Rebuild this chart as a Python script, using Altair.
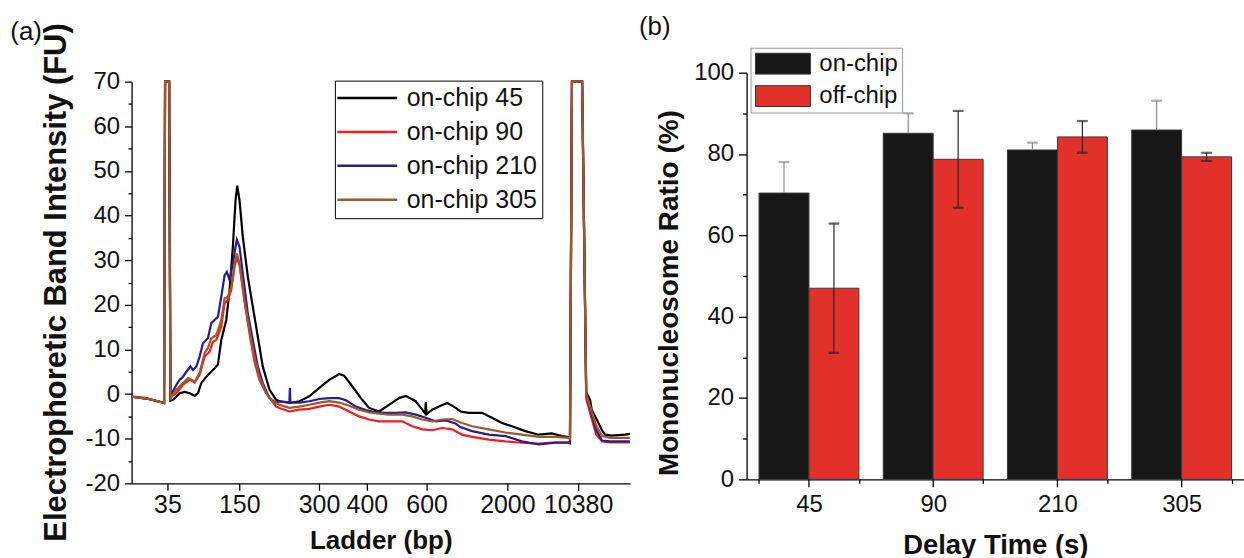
import altair as alt
import pandas as pd

FONT = "Liberation Sans"
INK = "#111111"

# ---------------- panel (a): electropherogram traces ----------------
# x = migration position (a.u.), ladder markers shown as tick labels
ladder_bp = [35, 150, 300, 400, 600, 2000, 10380]
ladder_pos = [36, 108, 188, 236, 296, 377, 448]

series_a = ["on-chip 45", "on-chip 90", "on-chip 210", "on-chip 305"]
colors_a = ["#000000", "#f21d1d", "#2b1c8e", "#9b5a2b"]

# marker peaks run off scale (drawn clamped at the top of the axis)
trace_45 = [(0, -0.6), (15, -1.0), (31, -1.9), (32.6, -2.0), (33.6, 70), (35.6, 200), (37.7, 70), (39, -1.5),
            (41.6, -1.3), (48.3, 0.2), (53.3, 0.5), (58.3, 0.2), (63.3, -0.4), (66.6, 0.2),
            (70, 2.5), (76.6, 4.3), (83.3, 5.8), (86.6, 6.6), (90, 12.1), (95, 16.6),
            (98.3, 23.3), (101.6, 33.0), (104.3, 43.4), (106, 46.7), (108.3, 43.4),
            (111.6, 35.2), (116.6, 26.3), (121.6, 19.6), (126.6, 12.9), (131.6, 6.2),
            (138.3, 1.0), (145, -1.3), (148.3, -1.6), (158.3, -2.0), (168.3, -1.6),
            (178.3, -0.5), (188.3, 1.4), (198.3, 3.2), (208.3, 4.5), (213.3, 4.1),
            (221.6, 1.7), (230, -0.9), (238.3, -3.1), (248.3, -3.9), (258.3, -2.4),
            (268.3, -0.9), (275, -0.4), (285, -1.6), (291.6, -3.5), (294.5, -4.3),
            (295.2, -1.8), (296, -4.5), (301.6, -3.5), (308.3, -2.8), (316.6, -2.0),
            (323.3, -2.8), (330, -3.9), (338.3, -4.2), (351.6, -4.2), (361.6, -5.3),
            (371.6, -6.5), (381.6, -7.2), (395, -8.3), (408.3, -9.1), (421.6, -8.8),
            (431.6, -9.4), (438.3, -9.6), (439.8, -10.0), (441.8, 70), (446.8, 200), (452.0, 70),
            (456.1, 0.4), (460, -1.3), (461.6, -3.5), (466.6, -5.7), (471.6, -8.0), (475, -9.1),
            (481.6, -9.3), (495, -9.1), (500, -8.9)]

trace_90 = [(0, -0.5), (15, -0.9), (31, -1.9), (32.6, -2.0), (33.6, 70), (35.6, 200), (37.7, 70), (39, -1.3),
            (40, -0.5), (45, 0.2), (51.6, 2.1), (58.3, 3.2), (63.3, 2.6), (68.3, 4.3),
            (73.3, 8.4), (78.3, 9.5), (81.6, 11.7), (85, 12.1), (90, 15.1), (93.3, 20.3),
            (96.6, 21.1), (100, 23.3), (103.3, 28.5), (105.6, 30.7), (108.3, 28.9),
            (113.3, 20.7), (118.3, 13.6), (123.3, 7.3), (128.3, 3.2), (135, 0.2),
            (140, -1.3), (145, -2.8), (148.3, -3.1), (158.3, -3.9), (168.3, -3.5),
            (178.3, -3.3), (188.3, -2.8), (198.3, -2.4), (208.3, -2.8), (218.3, -3.9),
            (228.3, -5.0), (238.3, -5.7), (248.3, -6.1), (258.3, -6.1), (271.6, -6.1),
            (281.6, -7.2), (291.6, -7.9), (301.6, -8.1), (311.6, -7.6), (321.6, -7.9),
            (331.6, -9.1), (341.6, -9.6), (358.3, -10.2), (375, -10.6), (391.6, -10.9),
            (408.3, -11.1), (425, -10.8), (438.3, -10.8), (439.8, -11.0), (441.8, 70), (446.8, 200),
            (452.0, 70), (456.1, -1.0), (461, -5.0), (466, -9.0), (472, -10.6), (480, -10.8), (500, -10.8)]

trace_210 = [(0, -0.6), (15, -1.0), (31, -1.9), (32.6, -2.0), (33.6, 70), (35.6, 200), (37.7, 70), (39, -1.3),
             (40.5, 0.2), (45, 2.1), (48.3, 3.2), (51.6, 3.9), (55, 5.0), (59, 6.2),
             (61.6, 5.4), (65, 6.2), (68.3, 8.4), (71.6, 11.4), (76.6, 12.5), (80, 15.9),
             (83.3, 16.6), (86.6, 17.3), (90, 21.8), (93.3, 26.6), (95.6, 27.4), (98.3, 25.5),
             (101.6, 29.3), (104.3, 33.0), (105.6, 34.6), (108.3, 33.0), (111.6, 27.0),
             (116.6, 18.1), (121.6, 12.1), (126.6, 6.2), (131.6, 2.5), (138.3, -0.9),
             (145, -2.0), (148.3, -1.6), (158.3, -1.9), (158.8, 1.4), (159.4, -1.9),
             (168.3, -1.9), (178.3, -1.6), (188.3, -1.1), (198.3, -0.9), (208.3, -0.9),
             (215, -1.4), (225, -2.8), (235, -3.6), (245, -4.1), (255, -4.2), (265, -4.2),
             (275, -4.1), (285, -4.6), (295, -5.3), (305, -6.1), (315, -5.9), (325, -6.6),
             (330, -7.4), (341.6, -8.3), (358.3, -9.1), (375, -9.4), (391.6, -10.6),
             (408.3, -11.3), (425, -10.9), (438.3, -10.9), (439.8, -11.0), (441.8, 70), (446.8, 200),
             (452.0, 70), (456.1, 0.0), (461, -4.0), (466, -8.0), (472, -10.4), (480, -10.6), (500, -10.6)]

trace_305 = [(0, -0.6), (15, -1.0), (31, -1.9), (32.6, -2.0), (33.6, 70), (35.6, 200), (37.7, 70), (39, -1.3),
             (40, -0.5), (45, 1.0), (51.6, 2.5), (56.6, 3.6), (60, 3.2), (63.3, 2.8),
             (68.3, 4.7), (73.3, 9.2), (76.6, 10.3), (80, 12.5), (85, 13.2), (90, 16.6),
             (93.3, 21.4), (96.6, 21.8), (100, 24.0), (103.3, 28.9), (105.6, 31.5),
             (108.3, 29.3), (113.3, 21.1), (118.3, 14.4), (123.3, 8.4), (128.3, 3.9),
             (135, 0.2), (141.6, -1.6), (148.3, -2.4), (158.3, -3.1), (168.3, -2.8),
             (178.3, -2.4), (188.3, -1.9), (198.3, -1.6), (208.3, -1.9), (218.3, -2.6),
             (228.3, -3.5), (238.3, -4.1), (248.3, -4.4), (258.3, -4.6), (271.6, -4.6),
             (281.6, -5.0), (291.6, -5.7), (301.6, -6.1), (311.6, -5.7), (321.6, -5.6),
             (331.6, -6.5), (341.6, -7.2), (358.3, -7.9), (375, -8.6), (391.6, -9.1),
             (408.3, -9.6), (425, -9.6), (438.3, -9.8), (439.8, -10.0), (441.8, 70), (446.8, 200),
             (452.0, 70), (456.1, 0.0), (461, -3.5), (466, -7.0), (472, -9.4), (480, -9.8), (500, -9.8)]

# ---------------- panel (b): mononucleosome ratio ----------------
delays = ["45", "90", "210", "305"]
series_b = ["on-chip", "off-chip"]
colors_b = ["#171717", "#e2302a"]
on_chip = [70.4, 85.1, 81.0, 85.9]
on_chip_err = [7.6, 4.9, 1.8, 7.2]
off_chip = [47.0, 78.7, 84.2, 79.3]
off_chip_err = [15.9, 11.9, 3.9, 1.0]

# ---------------- tables ----------------
rows_a = []
for name, tr in zip(series_a, [trace_45, trace_90, trace_210, trace_305]):
    for t, v in tr:
        rows_a.append({"series": name, "t": t, "v": v})
df_a = pd.DataFrame(rows_a)

rows_b, rows_err, rows_cap = [], [], []
for i, d in enumerate(delays):
    rows_b.append({"delay": d, "group": "on-chip", "value": on_chip[i]})
    rows_b.append({"delay": d, "group": "off-chip", "value": off_chip[i]})
    rows_err.append({"delay": d, "group": "on-chip", "lo": on_chip[i], "hi": on_chip[i] + on_chip_err[i]})
    rows_err.append({"delay": d, "group": "off-chip", "lo": off_chip[i] - off_chip_err[i], "hi": off_chip[i] + off_chip_err[i]})
    rows_cap.append({"delay": d, "group": "on-chip", "cap": on_chip[i] + on_chip_err[i]})
    rows_cap.append({"delay": d, "group": "off-chip", "cap": off_chip[i] + off_chip_err[i]})
    rows_cap.append({"delay": d, "group": "off-chip", "cap": off_chip[i] - off_chip_err[i]})
df_b = pd.DataFrame(rows_b)
df_err = pd.DataFrame(rows_err)
df_cap = pd.DataFrame(rows_cap)
df_cat = pd.DataFrame({"delay": delays})

# ---------------- left chart ----------------
x_label_expr = "".join(f"datum.value == {p} ? '{b}' : " for p, b in zip(ladder_pos, ladder_bp)) + "''"

left = alt.Chart(df_a).mark_line(strokeWidth=2.2).encode(
    x=alt.X("t:Q", scale=alt.Scale(domain=[0, 500], nice=False, zero=False),
            axis=alt.Axis(values=ladder_pos, labelExpr=x_label_expr, title="Ladder (bp)",
                          tickSize=7, labelPadding=2, labelFontSize=25, titleFontSize=26,
                          titlePadding=10, labelOverlap=False, labelFlush=False)),
    y=alt.Y("v:Q", scale=alt.Scale(domain=[-20, 70], range=[412, 9], nice=False, zero=False, clamp=True),
            axis=alt.Axis(values=list(range(-20, 71, 5)),
                          labelExpr="datum.value % 10 === 0 ? '' + datum.value : ''",
                          tickSize={"condition": {"test": "datum.value % 10 !== 0", "value": 3.5}, "value": 7},
                          labelPadding=5, labelFontSize=24,
                          title="Electrophoretic Band Intensity (FU)", titleFontSize=31,
                          titlePadding=13, titleY=210, labelOverlap=False)),
    color=alt.Color("series:N", scale=alt.Scale(domain=series_a, range=colors_a),
                    legend=alt.Legend(title=None, orient="none", legendX=204, legendY=8,
                                      symbolType="M-3,0H9", symbolSize=100, symbolStrokeWidth=2.5,
                                      labelOffset=42, labelFontSize=25, labelFont=FONT, labelColor=INK,
                                      strokeColor="#000000", fillColor="white", padding=5,
                                      rowPadding=8, labelLimit=0)),
).properties(
    width=500, height=412,
    title=alt.TitleParams("(a)", anchor="start", frame="group", dx=-121.7, fontSize=26,
                          fontWeight="normal", font=FONT, color=INK, offset=-22),
)

# ---------------- right chart ----------------
xb = alt.X("delay:N", sort=delays, title="Delay Time (s)",
           scale=alt.Scale(paddingInner=0.196, paddingOuter=0.1),
           axis=alt.Axis(tickBand="extent", tickSize=4, labelPadding=9, labelAngle=0,
                         labelFontSize=24, titleFontSize=27.5, titlePadding=15))
xo = alt.XOffset("group:N", sort=series_b, scale=alt.Scale(paddingInner=0, paddingOuter=0))
ytitle = "Mononucleosome Ratio (%)"

bars = alt.Chart(df_b).mark_bar(stroke="#3a3a3a", strokeWidth=1).encode(
    x=xb, xOffset=xo,
    y=alt.Y("value:Q", title=ytitle, scale=alt.Scale(domain=[0, 100], nice=False),
            axis=alt.Axis(values=list(range(0, 101, 10)),
                          labelExpr="datum.value % 20 === 0 ? '' + datum.value : ''",
                          tickSize={"condition": {"test": "datum.value % 20 !== 0", "value": 4}, "value": 8},
                          labelPadding=5, labelFontSize=24, titleFontSize=28, titlePadding=10,
                          titleY=220.7)),
    fill=alt.Fill("group:N", scale=alt.Scale(domain=series_b, range=colors_b),
                  legend=alt.Legend(title=None, orient="none", legendX=4, legendY=-25,
                                    symbolType="M-1,-0.95H4V0.95H-1Z", symbolSize=484,
                                    symbolStrokeColor="#333333", symbolStrokeWidth=1,
                                    labelOffset=41, labelFontSize=24, labelFont=FONT,
                                    labelColor=INK, strokeColor="#999999", fillColor="white",
                                    padding=4, rowPadding=6.5, labelLimit=0)),
)

err_color = alt.condition(alt.datum.group == "on-chip", alt.value("#8c8c8c"), alt.value("#262626"))

err = alt.Chart(df_err).mark_rule(strokeWidth=1.2).encode(
    x=alt.X("delay:N", sort=delays, title="Delay Time (s)"), xOffset=xo,
    y=alt.Y("lo:Q", title=ytitle), y2="hi:Q", stroke=err_color,
)
caps = alt.Chart(df_cap).mark_tick(size=10, thickness=1.2).encode(
    x=alt.X("delay:N", sort=delays, title="Delay Time (s)"), xOffset=xo,
    y=alt.Y("cap:Q", title=ytitle), stroke=err_color, fill=err_color,
)
center_ticks = alt.Chart(df_cat).mark_rule(color="#000000", strokeWidth=1.3).encode(
    x=alt.X("delay:N", sort=delays, title="Delay Time (s)"),
    y=alt.value(408), y2=alt.value(416),
)

right = alt.layer(bars, err, caps, center_ticks).properties(
    width=499, height=408,
    title=alt.TitleParams("(b)", anchor="start", frame="group", dx=-108, fontSize=26,
                          fontWeight="normal", font=FONT, color=INK, offset=7),
)

chart = alt.hconcat(left, right, spacing=4).resolve_scale(
    color="independent", fill="independent"
).resolve_legend(color="independent", fill="independent").properties(
    padding={"left": 10, "top": 13, "right": 0, "bottom": 0}
).configure_view(stroke=None).configure_axis(
    grid=False, domainColor="#000000", tickColor="#000000", labelColor=INK, titleColor=INK,
    labelFont=FONT, titleFont=FONT, titleFontWeight="bold", domainWidth=1.3, tickWidth=1.3,
).configure_legend(labelFont=FONT)

chart.save("out.html", embed_options={"renderer": "svg", "actions": False})
